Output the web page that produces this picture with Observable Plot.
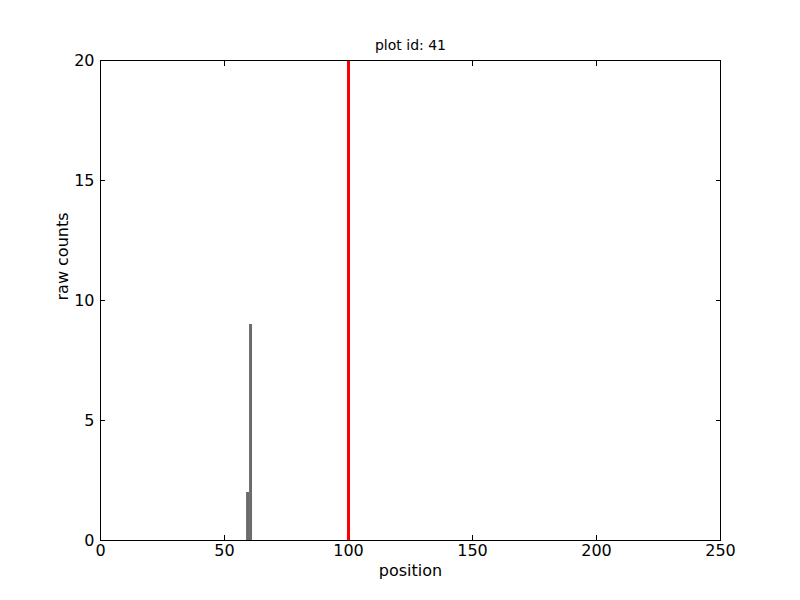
<!DOCTYPE html>
<html><head>
<meta charset="utf-8">
<script src="https://cdn.jsdelivr.net/npm/d3@7"></script>
<script src="https://cdn.jsdelivr.net/npm/@observablehq/plot@0.6"></script>
<style>body{margin:0;background:#fff} svg{font-family:"DejaVu Sans"}</style>
</head><body><div id="chart"></div>
<script>
const binStart = [58.9, 60.1];
const binEnd = [60.1, 61.3];
const counts = [2, 9];
const markerPosition = [100];
const xTicks = [0, 50, 100, 150, 200, 250];
const yTicks = [0, 5, 10, 15, 20];
const title = "plot id: 41";
const xLabel = "position";
const yLabel = "raw counts";

const bars = counts.map((c, i) => ({x1: binStart[i], x2: binEnd[i], y: c}));
const tl = -5;
const blank = () => "";
const chart = Plot.plot({
  width: 800, height: 600,
  marginLeft: 100, marginRight: 80, marginTop: 60, marginBottom: 60,
  style: {fontFamily: "DejaVu Sans", fontSize: "16px", background: "white", color: "black", overflow: "visible"},
  x: {domain: [0, 250]},
  y: {domain: [0, 20]},
  marks: [
    Plot.rectY(bars, {x1: "x1", x2: "x2", y: "y", fill: "#6b6b6b", inset: 0}),
    Plot.axisX(xTicks, {anchor: "bottom", tickSize: tl, tickFormat: blank, label: null}),
    Plot.axisX(xTicks, {anchor: "top", tickSize: tl, tickFormat: blank, label: null}),
    Plot.axisY(yTicks, {anchor: "left", tickSize: tl, tickFormat: blank, label: null}),
    Plot.axisY(yTicks, {anchor: "right", tickSize: tl, tickFormat: blank, label: null}),
    Plot.ruleX(markerPosition, {stroke: "red", strokeWidth: 3}),
    Plot.frame({stroke: "black"}),
    Plot.axisX(xTicks, {anchor: "bottom", tickSize: 0, tickPadding: 4, fontSize: 16, label: null}),
    Plot.axisY(yTicks, {anchor: "left", tickSize: 0, tickPadding: 6, fontSize: 16, label: null}),
    Plot.text([xLabel], {frameAnchor: "bottom", dy: 35, fontSize: 16}),
    Plot.text([yLabel], {frameAnchor: "left", dx: -38, rotate: -90, fontSize: 16}),
    Plot.text([title], {frameAnchor: "top", dy: -20, fontSize: 14})
  ]
});
document.getElementById("chart").appendChild(chart);
</script>
</body></html>
